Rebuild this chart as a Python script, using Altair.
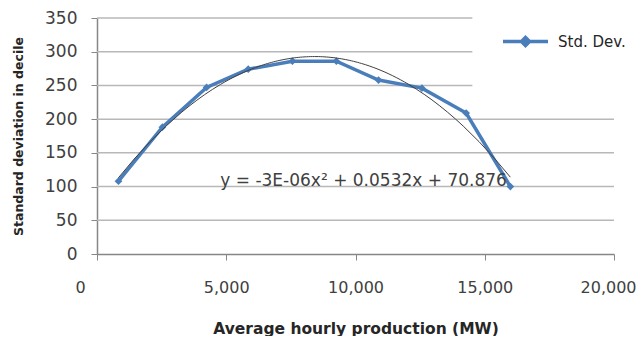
import altair as alt
import pandas as pd

# Data
production = [830, 2530, 4240, 5850, 7560, 9260, 10890, 12570, 14280, 15990]
std_dev = [108, 188, 247, 274, 286, 286, 258, 246, 209, 100]
series_name = "Std. Dev."
equation = "y = -3E-06x² + 0.0532x + 70.876"
eq_x = [4770]
eq_y = [108]

grid_y = [50, 100, 150, 200, 250, 300, 350]
grid_x_end = [20000, 20000, 20000, 20000, 14520, 14520, 14520]

x_ticks = [0, 5000, 10000, 15000, 20000]
y_ticks = [0, 50, 100, 150, 200, 250, 300, 350]

BLUE = "#4a7ebb"
FONT = "DejaVu Sans"

df = pd.DataFrame({"x": production, "y": std_dev, "series": [series_name] * len(production)})
grid_df = pd.DataFrame({"y": grid_y, "x0": [0] * len(grid_y), "x1": grid_x_end})
eq_df = pd.DataFrame({"x": eq_x, "y": eq_y, "label": [equation]})

xscale = alt.Scale(domain=[0, 20000], nice=False)
yscale = alt.Scale(domain=[0, 350], nice=False)

x_axis = alt.Axis(
    values=x_ticks, format=",.0f", grid=False, title="Average hourly production (MW)",
    domainColor="#868686", domainWidth=1.5, tickColor="#868686", tickSize=6,
    labelFontSize=16, labelPadding=19, labelColor="#404040", labelFont=FONT,
    labelFlush=7, labelFlushOffset=22, labelOverlap=False,
    titleFont=FONT, titleFontSize=15.5, titleFontWeight="bold", titleColor="#262626",
    titleY=74, titleBaseline="middle",
)
y_axis = alt.Axis(
    values=y_ticks, format="d", grid=False, title="Standard deviation in decile",
    domainColor="#868686", domainWidth=1.5, tickColor="#868686", tickSize=6,
    labelFontSize=17, labelPadding=14, labelColor="#404040", labelFont=FONT,
    labelFlush=False, labelOverlap=False,
    titleFont=FONT, titleFontSize=12.5, titleFontWeight="bold", titleColor="#262626",
    titleX=-79, titleY=118, titleBaseline="middle", titleAlign="center",
)

X = lambda f: alt.X(f, scale=xscale, axis=x_axis)
Y = lambda f: alt.Y(f, scale=yscale, axis=y_axis)

grid = alt.Chart(grid_df).mark_rule(color="#b8b8b8", strokeWidth=1.5).encode(
    x=X("x0:Q"),
    x2="x1:Q",
    y=Y("y:Q"),
)

color = alt.Color(
    "series:N",
    scale=alt.Scale(range=[BLUE]),
    legend=alt.Legend(
        title=None, orient="none", legendX=404, legendY=-1,
        symbolType="M-1,0H1M0,-0.18L0.18,0L0,0.18L-0.18,0Z",
        symbolSize=2025, symbolStrokeWidth=3.5, symbolFillColor=BLUE,
        symbolStrokeColor=BLUE,
        labelFontSize=15, labelFont=FONT, labelColor="#262626", labelOffset=8,
        padding=0,
    ),
)

line = alt.Chart(df).mark_line(strokeWidth=3.5, point=alt.OverlayMarkDef(shape="diamond", size=60, filled=True, color=BLUE)).encode(
    x=X("x:Q"),
    y=Y("y:Q"),
    color=color,
)

trend = alt.Chart(df).transform_regression("x", "y", method="poly", order=2).mark_line(
    color="#404040", strokeWidth=1
).encode(
    x=X("x:Q"),
    y=Y("y:Q"),
)

eq_text = alt.Chart(eq_df).mark_text(
    align="left", baseline="middle", fontSize=17, font=FONT, color="#404040"
).encode(
    x=X("x:Q"),
    y=Y("y:Q"),
    text="label:N",
)

chart = alt.layer(grid, line, trend, eq_text).properties(
    width=517, height=236,
    background="white",
    autosize=alt.AutoSizeParams(type="none"),
    padding={"left": 89, "top": 10, "right": 22, "bottom": 82},
).configure_view(stroke="white", strokeOpacity=0, strokeWidth=0)

chart.save("out.html", embed_options={"renderer": "svg", "actions": False})
